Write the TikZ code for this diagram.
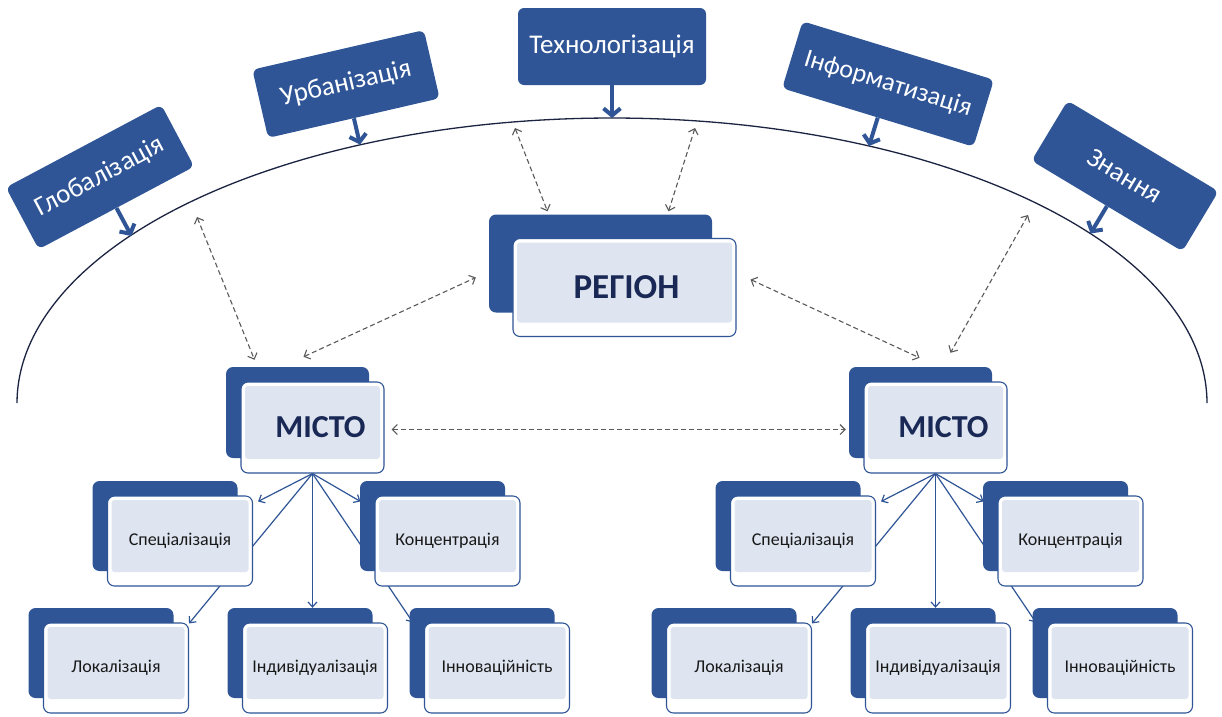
\documentclass[tikz,border=0pt]{standalone}
\usepackage{fontspec}
\setmainfont{Carlito}
\usetikzlibrary{arrows.meta,calc,backgrounds}
\definecolor{dblue}{RGB}{47,85,151}
\definecolor{navy}{RGB}{25,40,85}
\definecolor{lfill}{RGB}{222,229,241}
\definecolor{dgray}{RGB}{90,90,90}
\definecolor{arcc}{RGB}{28,36,66}
\tikzset{
 topbox/.style={fill=dblue, rounded corners=6pt, text=white, font=\fontsize{27}{30}\selectfont, inner sep=0pt, minimum width=176pt, minimum height=70pt},
 backbox/.style={fill=dblue, rounded corners=7pt, inner sep=0pt},
 frontbox/.style={fill=white, draw=dblue, line width=1.1pt, rounded corners=7pt, inner sep=0pt,
   path picture={\fill[lfill, rounded corners=3pt] ([shift={(4pt,-4pt)}]path picture bounding box.north west) rectangle ([shift={(-4pt,14pt)}]path picture bounding box.south east);}},
 bigarrow/.style={draw=dblue, line width=4pt, -{Straight Barb[length=7pt,width=17pt]}},
 treearrow/.style={draw=dblue, line width=1.2pt, -{Straight Barb[length=5pt,width=9pt]}},
 dasharrow/.style={draw=dgray, line width=1.1pt, dash pattern=on 5pt off 3pt, {Straight Barb[length=5pt,width=10pt]}-{Straight Barb[length=5pt,width=10pt]}},
 arcline/.style={draw=arcc, line width=1.3pt},
}
\newcommand{\sublab}[1]{\textcolor{black!90}{\fontsize{18}{21}\selectfont #1}}
\newcommand{\dbox}[7]{%
  \node[backbox, minimum width=#4pt, minimum height=#5pt] (#1b) at ({#2-#6},{#3-#6}) {};
  \node[frontbox, minimum width=#4pt, minimum height=#5pt] (#1) at ({#2},{#3}) {#7};
}
\newcommand{\citytree}[2]{%
  \dbox{city#1}{#2+312.5}{427.5}{143}{91}{15}{\raisebox{-5pt}{\hspace*{16pt}\textbf{\fontsize{32}{36}\selectfont\color{navy}МІСТО}}}
  \dbox{spec#1}{#2+180}{541}{145}{90}{15}{\sublab{Спеціалізація}}
  \dbox{konc#1}{#2+447.5}{541}{145}{90}{15}{\sublab{Концентрація}}
  \dbox{lok#1}{#2+116}{668}{145}{90}{15}{\sublab{Локалізація}}
  \dbox{ind#1}{#2+315}{668}{145}{90}{15}{\sublab{Індивідуалізація}}
  \dbox{inn#1}{#2+497}{668}{145}{90}{15}{\sublab{Інноваційність}}
  \begin{scope}[on background layer]
    \draw[treearrow] (city#1.south) -- ($(spec#1.north east)+(5,6)$);
    \draw[treearrow] (city#1.south) -- ($(konc#1.north west)+(-14,6)$);
    \draw[treearrow] (city#1.south) -- (city#1.south |- ind#1b.north);
    \draw[treearrow] (city#1.south) -- ($(lok#1.north east)+(0,1)$);
    \draw[treearrow] (city#1.south) -- ($(inn#1.north west)+(-11,0)$);
  \end{scope}
}
\begin{document}
\begin{tikzpicture}[x=1pt,y=-1pt]
\begin{pgfonlayer}{background}
\fill[white] (0,0) rectangle (1222,716);
\end{pgfonlayer}
\useasboundingbox (0,0) rectangle (1222,716);

% big arc
\draw[arcline] plot[domain=0:180, samples=160, smooth] ({612+595*cos(\x)},{403-285*sin(\x)});
\coordinate (aG) at (131.5,236);
\coordinate (aU) at (360,144.5);
\coordinate (aT) at (612,118);
\coordinate (aI) at (869,146);
\coordinate (aK) at (1090.5,233.5);

% top factors
\node[topbox, rotate=28] (glob) at (100,177) {Глобалізація};
\node[topbox, rotate=13] (urb) at (346,84) {Урбанізація};
\node[topbox, minimum width=188pt, minimum height=77pt] (tech) at (612,46.5) {Технологізація};
\node[topbox, rotate=-17, minimum width=200pt, font=\fontsize{26}{29}\selectfont] (info) at (888,84) {Інформатизація};
\node[topbox, rotate=-31] (know) at (1125,176) {Знання};

\draw[bigarrow] (glob.south) -- (aG);
\draw[bigarrow] (urb.south) -- (aU);
\draw[bigarrow] (tech.south) -- (aT);
\draw[bigarrow] (info.south) -- (aI);
\draw[bigarrow] (know.south) -- (aK);

% region
\dbox{reg}{624.5}{287.5}{223}{98}{24}{\raisebox{-3pt}{\hspace*{4pt}\textbf{\fontsize{35}{40}\selectfont\color{navy}РЕГІОН}}}

% cities and their trees
\citytree{L}{0}
\citytree{R}{623}

% dashed links
\coordinate (d1) at (197,217);
\coordinate (d3) at (515,128);
\coordinate (d4) at (695,128);
\coordinate (d6) at (1028,215);
\draw[dasharrow] (d1) -- ($(cityLb.north)+(-43,-7)$);
\draw[dasharrow] ($(cityLb.north)+(6,-10)$) -- ($(regb.west)+(-13,14)$);
\draw[dasharrow] (d3) -- ($(regb.north)+(-53,-3)$);
\draw[dasharrow] (d4) -- ($(regb.north)+(68,-3)$);
\draw[dasharrow] ($(reg.east)+(14,-8)$) -- ($(cityRb.north)+(-1,-9)$);
\draw[dasharrow] (d6) -- ($(cityRb.north)+(30,-14)$);
\draw[dasharrow] ($(cityL.east)+(7,2)$) -- ($(cityL.east -| cityRb.west)+(-3,2)$);
\end{tikzpicture}
\end{document}
